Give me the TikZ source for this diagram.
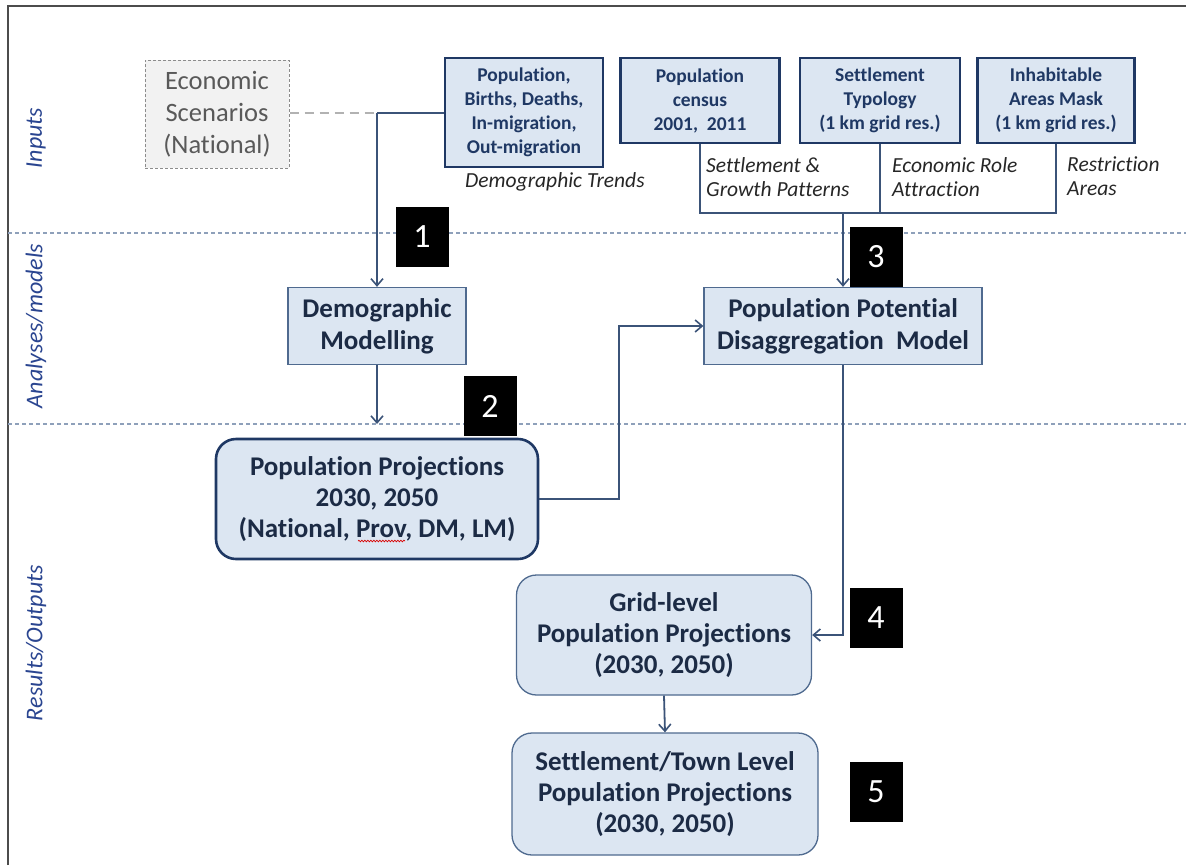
\documentclass[tikz,border=0pt]{standalone}
\usepackage{fontspec}
\setmainfont{Carlito}[Ligatures=NoCommon]
\usetikzlibrary{arrows.meta,decorations.pathmorphing}
\definecolor{navy}{HTML}{1F3864}
\definecolor{darktext}{HTML}{1C2B45}
\definecolor{boxfill}{HTML}{DCE6F2}
\definecolor{thinborder}{HTML}{4F6A8F}
\definecolor{linecol}{HTML}{3B5378}
\definecolor{sepcol}{HTML}{8EA0BA}
\definecolor{sidecol}{HTML}{2A4590}
\tikzset{
  inbox/.style={draw=navy, line width=2.6pt, fill=boxfill, text=navy, align=center,
    inner sep=0pt, font=\bfseries\fontsize{19.5}{24}\selectfont},
  modelbox/.style={draw=thinborder, line width=1.3pt, fill=boxfill, text=darktext, align=center,
    inner sep=0pt, font=\bfseries\fontsize{27}{32}\selectfont},
  projbox/.style={draw=navy, line width=2.6pt, fill=boxfill, text=darktext, align=center,
    inner sep=0pt, rounded corners=20pt, font=\bfseries\fontsize{27}{31}\selectfont},
  outbox/.style={draw=thinborder, line width=1.3pt, fill=boxfill, text=darktext, align=center,
    inner sep=0pt, rounded corners=20pt, font=\bfseries\fontsize{27}{31}\selectfont},
  numbox/.style={fill=black, text=white, minimum width=53pt, minimum height=60pt, inner sep=0pt,
    font=\fontsize{34}{34}\selectfont},
  sidelabel/.style={rotate=90, text=sidecol, font=\itshape\fontsize{24}{26}\selectfont},
  flowlabel/.style={anchor=north west, align=left, inner sep=0pt, text=black!85,
    font=\itshape\fontsize{21.5}{24}\selectfont},
  conn/.style={draw=linecol, line width=1.8pt},
  arr/.style={conn, -{Straight Barb[length=7pt, width=12pt, line width=1.6pt]}},
  sep/.style={draw=sepcol, line width=1.3pt, dash pattern=on 4pt off 3pt},
}
\begin{document}
\begin{tikzpicture}[x=1pt, y=-1pt]
\useasboundingbox (0,0) rectangle (1186,865);
% frame
\draw[black!70, line width=1.5pt] (8,865) -- (8,6) -- (1186,6);
% separators
\coordinate (s1l) at (8,233);
\coordinate (s1r) at (1186,233);
\coordinate (s2l) at (8,424);
\coordinate (s2r) at (1186,424);
\draw[sep] (s1l) -- (s1r);
\draw[sep] (s2l) -- (s2r);
% side labels
\node[sidelabel] (lin) at (36,138) {Inputs};
\node[sidelabel] (lan) at (36,326) {Analyses/models};
\node[sidelabel] (lres) at (36,643) {Results/Outputs};
% economic scenarios
\node[draw=black!45, dash pattern=on 3pt off 2pt, line width=1pt, fill=black!5, text=black!65,
  minimum width=144pt, minimum height=108pt, inner sep=0pt, align=center,
  font=\fontsize{26.5}{32}\selectfont] (econ) at (217,114) {Economic\\Scenarios\\(National)};
% inputs
\node[inbox, minimum width=158pt, minimum height=109pt] (pop) at (524,112.5)
  {Population,\\Births, Deaths,\\In-migration,\\Out-migration};
\node[inbox, minimum width=159pt, minimum height=85pt] (cen) at (700,100.5)
  {Population\\census\\2001,\ \ 2011};
\node[inbox, minimum width=160pt, minimum height=85pt] (typ) at (880,100.5)
  {Settlement\\Typology\\(1 km grid res.)};
\node[inbox, minimum width=157pt, minimum height=85pt] (inh) at (1056,100.5)
  {Inhabitable\\Areas Mask\\(1 km grid res.)};
% flow labels
\node[flowlabel] (ldt) at (465,172) {Demographic Trends};
\node[flowlabel] (lsg) at (706,157) {Settlement \&\\Growth Patterns};
\node[flowlabel] (ler) at (892,157) {Economic Role\\Attraction};
\node[flowlabel] (lra) at (1067,157) {Restriction\\Areas};
% models
\node[modelbox, minimum width=178pt, minimum height=77pt] (demo) at (377,326)
  {Demographic\\Modelling};
\node[modelbox, minimum width=278pt, minimum height=77pt] (ppm) at (843,326)
  {Population Potential\\Disaggregation\ \ Model};
% outputs
\node[projbox, minimum width=322pt, minimum height=120pt] (proj) at (377,499)
  {Population Projections\\2030, 2050\\(National, Prov, DM, LM)};
\draw[red!85!black, line width=0.7pt, decorate,
  decoration={snake, amplitude=0.8pt, segment length=3pt}] (358,541) -- (405,541);
\node[outbox, minimum width=295pt, minimum height=120pt] (grid) at (664,635)
  {Grid-level\\Population Projections\\(2030, 2050)};
\node[outbox, minimum width=306pt, minimum height=122pt] (town) at (665,794)
  {Settlement/Town Level\\Population Projections\\(2030, 2050)};
% connectors
\coordinate (jn) at (377,113);
\draw[gray!60, line width=1.8pt, dash pattern=on 9pt off 6pt] (econ.east |- jn) -- (jn);
\draw[conn] (jn) -- (jn -| pop.west);
\draw[arr] (jn) -- (demo.north);
\coordinate (dend) at (demo.south |- s2l);
\draw[arr] (demo.south) -- (dend);
\coordinate (hb) at (700,213);
\draw[conn] (cen.south) -- (hb) -- (hb -| inh.south) -- (inh.south);
\draw[conn] (typ.south) -- (typ.south |- hb);
\draw[arr] (ppm.north |- hb) -- (ppm.north);
\coordinate (kp) at (619,499);
\draw[arr] (proj.east) -- (kp) |- (ppm.west);
\draw[arr] (ppm.south) |- (grid.east);
\draw[arr] (grid.south) -- (town.north);
% number boxes
\node[numbox] (n1) at (422,237) {1};
\node[numbox] (n2) at (490,406) {2};
\node[numbox] (n3) at (876,257) {3};
\node[numbox] (n4) at (876,618) {4};
\node[numbox] (n5) at (876,792) {5};
\end{tikzpicture}
\end{document}
